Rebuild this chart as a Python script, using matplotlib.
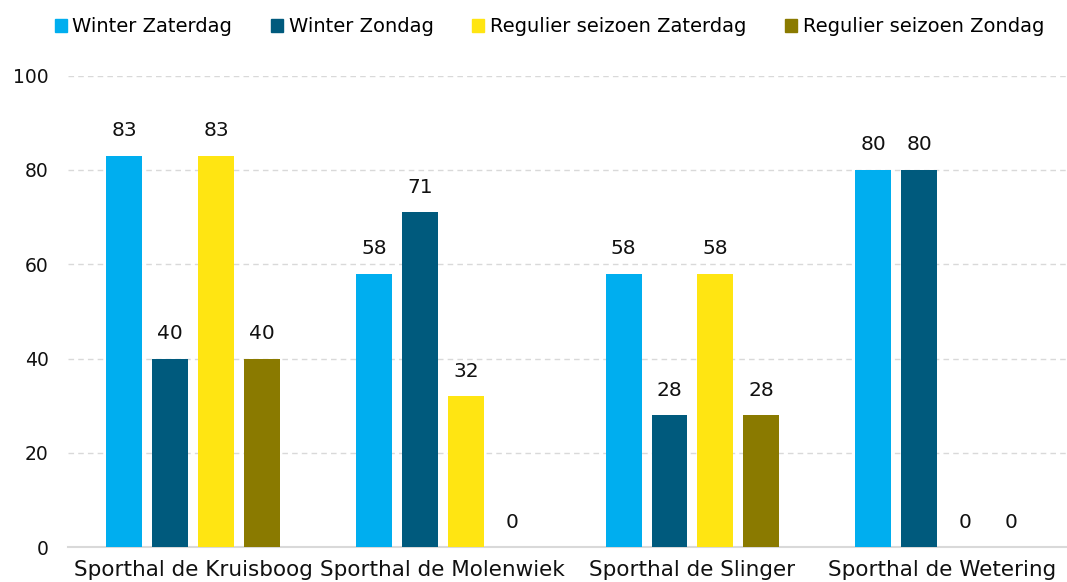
import numpy as np
import matplotlib.pyplot as plt
from matplotlib.patches import Patch

categories = ['Sporthal de Kruisboog', 'Sporthal de Molenwiek', 'Sporthal de Slinger', 'Sporthal de Wetering']
series_names = ['Winter Zaterdag', 'Winter Zondag', 'Regulier seizoen Zaterdag', 'Regulier seizoen Zondag']
winter_zat = [83, 58, 58, 80]
winter_zon = [40, 71, 28, 80]
regulier_zat = [83, 32, 58, 0]
regulier_zon = [40, 0, 28, 0]
colors = ['#00AEEF', '#005A7D', '#FFE512', '#8A7A00']

plt.rcParams['font.family'] = 'DejaVu Sans'

fig = plt.figure(figsize=(10.67, 5.82), dpi=100)
ax = fig.add_axes([0.064, 0.06, 0.936, 0.81])

x = np.arange(len(categories))
width = 0.144
step = 0.184
all_series = [winter_zat, winter_zon, regulier_zat, regulier_zon]
for i, vals in enumerate(all_series):
    offs = (i - 1.5) * step
    ax.bar(x + offs, vals, width, color=colors[i], zorder=3)
    for xx, v in zip(x + offs, vals):
        ax.text(xx, v + 3.3, str(v), ha='center', va='bottom', fontsize=14.5, color='#111111')

ax.set_xlim(-0.5, 3.5)
ax.set_ylim(0, 100)
ax.set_yticks([0, 20, 40, 60, 80, 100])
ax.set_xticks(x)
ax.set_xticklabels(categories, fontsize=15.5, color='#111111')
ax.tick_params(axis='y', labelsize=13.5, colors='#111111', length=0, pad=14)
ax.tick_params(axis='x', length=0, pad=9)
ax.grid(axis='y', color='#d9d9d9', linestyle=(0, (4, 3)), linewidth=1, zorder=0)
for s in ['top', 'right', 'left']:
    ax.spines[s].set_visible(False)
ax.spines['bottom'].set_color('#d9d9d9')
ax.spines['bottom'].set_linewidth(1.5)

handles = [Patch(color=c) for c in colors]
fig.legend(handles, series_names, loc='upper center', bbox_to_anchor=(0.515, 1.0), ncol=4,
           frameon=False, fontsize=14, handlelength=0.6, handleheight=0.6,
           handletextpad=0.3, columnspacing=2.0)

fig.savefig('out.png', dpi=100)
